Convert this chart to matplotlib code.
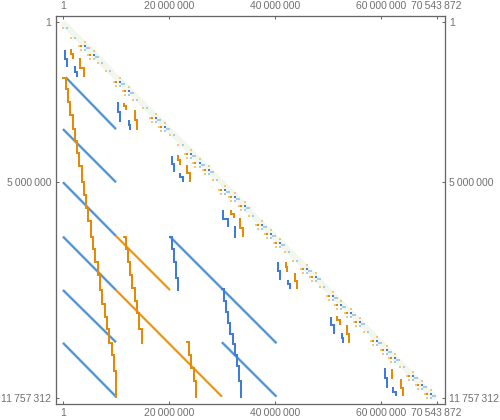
#!/usr/bin/env python3
"""Sparse matrix plot: 11757312 x 70543872, values in millions."""
import matplotlib
matplotlib.use('Agg')
import matplotlib.pyplot as plt

plt.rcParams['font.family'] = ['Liberation Sans', 'DejaVu Sans']

BLUE = '#3f7bd8'
BLUE_DIAG = '#4a8fd2'
BLUE_PALE = '#a5cbe8'
ORANGE = '#e48a06'
ORANGE_PALE = '#f0c878'
BAND = '#f2f6ec'
GRAY = '#666666'
TEXT = '#707070'
PX = 0.72  # one pixel in points

# long shallow diagonals: x0, y0, x1, y1
blue_diag_x0 = [0.5, 0, 0, 0, 0, 0, 20.2, 30.0]
blue_diag_y0 = [1.72, 3.34, 5.0, 6.7, 8.37, 10.02, 6.7, 10.0]
blue_diag_x1 = [10, 10, 10, 10, 10, 10, 40.3, 40.3]
blue_diag_y1 = [3.34, 5.0, 6.68, 8.37, 10.0, 11.7, 10.03, 11.7]
orange_diag_x0 = [10, 10]
orange_diag_y0 = [6.68, 8.37]
orange_diag_x1 = [20.2, 30]
orange_diag_y1 = [8.37, 11.7]

# steep staircase lines
steep_c_x = [0, 0.5, 0.9, 1.4, 1.8, 2.2, 2.7, 3.1, 3.5, 4.0, 4.4, 4.8, 5.3, 5.7, 6.1, 6.6, 7.0, 7.4, 7.9, 8.3, 8.7, 9.2, 9.6, 10]
steep_c_y = [1.74, 2.1, 2.5, 2.9, 3.35, 3.7, 4.1, 4.5, 5.0, 5.4, 5.8, 6.2, 6.7, 7.1, 7.5, 7.9, 8.37, 8.8, 9.2, 9.6, 10.03, 10.4, 10.9, 11.7]
steep_d_x = [11.5, 11.9, 12.3, 12.7, 13.1, 13.5, 13.9, 14.4, 14.9]
steep_d_y = [6.7, 7.1, 7.5, 7.9, 8.3, 8.7, 9.1, 9.6, 10.03]
steep_e_x = [23.4, 23.8, 24.2, 24.7, 25.1]
steep_e_y = [10.0, 10.4, 10.8, 11.2, 11.7]
steep_f_x = [20.2, 20.6, 21.0, 21.4, 21.7]
steep_f_y = [6.72, 7.1, 7.5, 8.0, 8.37]
steep_g_x = [30.0, 30.4, 30.8, 31.2, 31.6, 32.0, 32.4, 32.8, 33.2, 33.6]
steep_g_y = [8.33, 8.7, 9.05, 9.4, 9.75, 10.05, 10.4, 10.75, 11.2, 11.7]

# short pieces under the main diagonal: x0, x1, y0, y1
blue_a = [(0.3, 0.8, 0.87, 1.4), (10.4, 10.8, 2.49, 3.12), (20.5, 20.9, 4.18, 4.68), (30.3, 31.1, 5.87, 6.4),
          (40.6, 41.0, 7.49, 8.05), (50.6, 51.2, 9.21, 9.74), (60.7, 61.2, 10.8, 11.43)]
blue_b = [(2.3, 2.6, 1.37, 1.71), (12.4, 12.6, 3.05, 3.37), (22.1, 22.7, 4.71, 4.99), (32.5, 32.5, 6.37, 6.73),
          (42.5, 42.9, 8.05, 8.33), (52.7, 52.8, 9.71, 10.02), (62.3, 62.9, 11.4, 11.68)]
orange_a = [(1.5, 1.9, 0.83, 1.15), (11.6, 11.9, 2.52, 2.74), (21.7, 22.1, 4.15, 4.46), (31.8, 32.3, 5.87, 6.12),
            (42.1, 42.3, 7.49, 7.8), (51.7, 52.3, 9.18, 9.46), (62.1, 62.2, 10.83, 11.15)]
orange_b = [(3.3, 3.9, 1.12, 1.71), (13.6, 13.9, 2.74, 3.37), (23.4, 24.0, 4.46, 4.99), (33.5, 34.0, 6.12, 6.71),
            (43.8, 44.2, 7.83, 8.33), (53.6, 54.0, 9.46, 10.02), (63.9, 64.2, 11.15, 11.68)]

# clusters along the main diagonal
blob_x = [0.4, 1.9, 3.8, 5.5, 7.0, 8.5, 10.4, 12.1, 13.6, 15.5, 17.2, 18.9, 20.6, 22.2, 23.8, 25.4, 27.2, 28.7, 30.2, 32.1, 34.0,
          35.5, 37.2, 38.9, 40.6, 42.3, 43.8, 45.7, 47.4, 48.9, 50.6, 52.1, 54.0, 55.7, 57.2, 58.9, 60.8, 62.3, 64.0, 65.7, 67.4, 69.1]
blob_y = [0.18, 0.49, 0.74, 1.02, 1.27, 1.52, 1.87, 2.15, 2.43, 2.68, 2.99, 3.27, 3.52, 3.83, 4.12, 4.40, 4.62, 4.93, 5.24, 5.46, 5.74,
          6.05, 6.34, 6.62, 6.90, 7.18, 7.46, 7.71, 7.96, 8.27, 8.55, 8.84, 9.08, 9.37, 9.68, 9.96, 10.24, 10.49, 10.77, 11.05, 11.33, 11.62]
blob_big = [0, 0, 1, 1, 0, 0, 1, 1, 0, 0, 1, 1, 0, 0, 1, 1, 1, 0, 1, 1, 1,
            0, 1, 1, 1, 0, 0, 1, 1, 0, 1, 1, 1, 1, 0, 1, 1, 1, 0, 1, 1, 1]

x_ticks = [0.000001, 20, 40, 60, 70.543872]
x_labels = ['1', '20\u2009000\u2009000', '40\u2009000\u2009000', '60\u2009000\u2009000', '70\u2009543\u2009872']
y_ticks = [0.000001, 5, 11.757312]
y_labels = ['1', '5\u2009000\u2009000', '11\u2009757\u2009312']


def steep(ax, xs, ys, color):
    ax.plot(xs, ys, drawstyle='steps-post', color=color, lw=2 * PX, solid_joinstyle='miter', zorder=4)


def piece(ax, x0, x1, y0, y1, color):
    ym = (y0 + y1) / 2
    ax.plot([x0, x0, x1, x1], [y0, ym, ym, y1], color=color, lw=2 * PX, solid_capstyle='butt',
            solid_joinstyle='miter', zorder=4)


fig = plt.figure(figsize=(5.0, 4.2), dpi=100)
ax = fig.add_axes([55.5 / 500, 1 - 404 / 420, (444.7 - 55.5) / 500, (404 - 15.5) / 420])

# pale band along the main diagonal
ax.plot([0, 70.3], [0.03, 11.75], color=BAND, lw=5 * PX, solid_capstyle='butt', antialiased=False, zorder=1)

for i in range(len(blue_diag_x0)):
    xs, ys = [blue_diag_x0[i], blue_diag_x1[i]], [blue_diag_y0[i], blue_diag_y1[i]]
    ax.plot(xs, ys, color=BLUE_PALE, lw=2.8 * PX, solid_capstyle='butt', zorder=2)
    ax.plot(xs, ys, color=BLUE_DIAG, lw=1.7 * PX, solid_capstyle='butt', zorder=3)
for i in range(len(orange_diag_x0)):
    xs, ys = [orange_diag_x0[i], orange_diag_x1[i]], [orange_diag_y0[i], orange_diag_y1[i]]
    ax.plot(xs, ys, color=ORANGE_PALE, lw=2.7 * PX, solid_capstyle='butt', zorder=2)
    ax.plot(xs, ys, color=ORANGE, lw=1.3 * PX, solid_capstyle='butt', zorder=3)

steep(ax, steep_c_x, steep_c_y, ORANGE)
steep(ax, steep_d_x, steep_d_y, ORANGE)
steep(ax, steep_e_x, steep_e_y, ORANGE)
steep(ax, steep_f_x, steep_f_y, BLUE)
steep(ax, steep_g_x, steep_g_y, BLUE)

for group, color in [(blue_a, BLUE), (blue_b, BLUE), (orange_a, ORANGE), (orange_b, ORANGE)]:
    for x0, x1, y0, y1 in group:
        piece(ax, x0, x1, y0, y1, color)

# each cluster: pale squares around, orange and blue cores
for x, y, big in zip(blob_x, blob_y, blob_big):
    dx, dy = 0.4, 0.065  # about two pixels
    if big:
        ax.scatter([x - 2 * dx, x - dx, x + dx], [y, y + 2 * dy, y - 2 * dy], marker='s', s=4.5, color=ORANGE_PALE, linewidths=0, zorder=5)
        ax.scatter([x + 2 * dx, x + dx, x + 3 * dx], [y + dy, y + 2 * dy, y + dy], marker='s', s=4, color=BLUE_PALE, linewidths=0, zorder=5)
        ax.scatter([x - dx], [y], marker='s', s=4.5, color=ORANGE, linewidths=0, zorder=6)
        ax.scatter([x + dx], [y], marker='s', s=4.5, color=BLUE, linewidths=0, zorder=6)
    else:
        ax.scatter([x - dx], [y], marker='s', s=3.5, color=ORANGE_PALE, linewidths=0, zorder=5)
        ax.scatter([x + dx], [y], marker='s', s=3.5, color=BLUE_PALE, linewidths=0, zorder=5)

ax.set_xlim(-1.416, 72.06)
ax.set_ylim(11.93, -0.21)
ax.set_xticks(x_ticks)
ax.set_xticklabels(x_labels)
ax.set_yticks(y_ticks)
ax.set_yticklabels(y_labels)
ax.tick_params(axis='both', which='major', direction='in', length=3 * PX, width=1 * PX, color=GRAY,
               labelcolor=TEXT, labelsize=7.5, top=True, right=True, labeltop=True, labelright=True, pad=3)
for spine in ax.spines.values():
    spine.set_color(GRAY)
    spine.set_linewidth(1.3 * PX)

plt.savefig('out.png', dpi=100)
plt.close()
